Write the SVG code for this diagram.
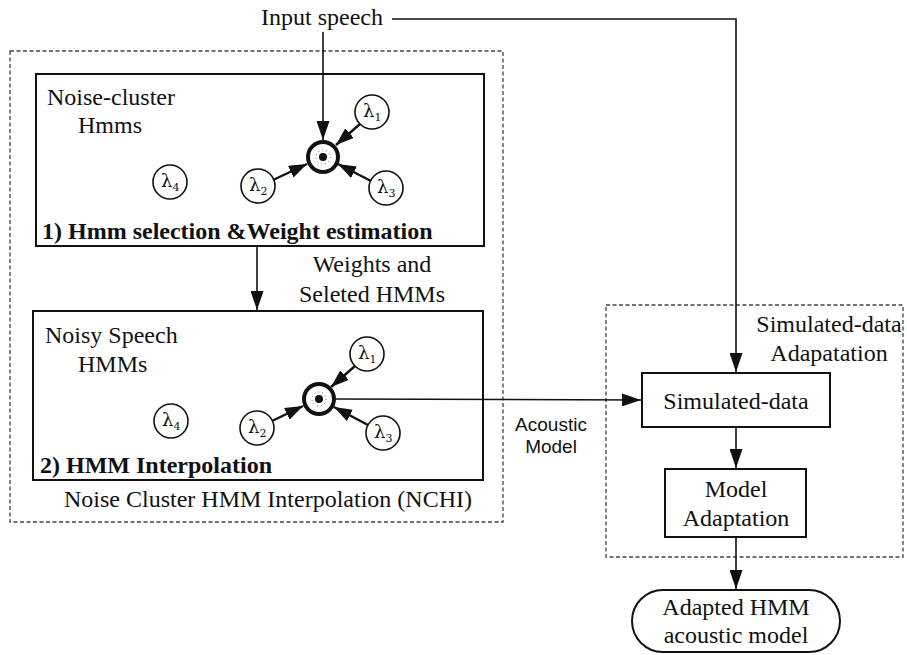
<svg xmlns="http://www.w3.org/2000/svg" width="907" height="655" viewBox="0 0 907 655">
<style>
.t{font-family:"Liberation Serif","Times New Roman",serif;font-size:24px;fill:#111}
.b{font-family:"Liberation Serif","Times New Roman",serif;font-size:24px;font-weight:bold;fill:#111}
.s{font-family:"Liberation Sans",Arial,sans-serif;font-size:19px;fill:#111}
.lam{font-family:"DejaVu Serif","Liberation Serif",serif;font-size:18px;fill:#111}
.box{fill:#fff;stroke:#111;stroke-width:2}
.dot{fill:none;stroke:#444;stroke-width:1.3;stroke-dasharray:4 2.5}
.lc{fill:#fff;stroke:#111;stroke-width:1.6}
.ln{fill:none;stroke:#111;stroke-width:1.6}
.lb{fill:none;stroke:#111;stroke-width:2.4}
</style>
<defs>
<marker id="ah" viewBox="0 0 19 13" refX="19" refY="6.5" markerWidth="19" markerHeight="13" orient="auto" markerUnits="userSpaceOnUse"><path d="M0,0 L19,6.5 L0,13 z" fill="#111"/></marker>
<marker id="ahb" viewBox="0 0 18 13" refX="18" refY="6.5" markerWidth="18" markerHeight="13" orient="auto" markerUnits="userSpaceOnUse"><path d="M0,0 L18,6.5 L0,13 z" fill="#111"/></marker>
</defs>
<rect width="907" height="655" fill="#fff"/>

<g id="nchi">
<rect class="dot" x="10" y="51" width="493" height="471"/>
<text class="t" x="268" y="507" text-anchor="middle">Noise Cluster HMM Interpolation (NCHI)</text>
</g>
<g id="sda">
<rect class="dot" x="606" y="305" width="297" height="252"/>
<text class="t" x="829" y="332" text-anchor="middle">Simulated-data</text>
<text class="t" x="829" y="361" text-anchor="middle">Adapatation</text>
</g>

<g id="stage1">
<rect class="box" x="36" y="74" width="448" height="172"/>
<text class="t" x="47" y="105">Noise-cluster</text>
<text class="t" x="78" y="133">Hmms</text>
<text class="b" x="42" y="239">1) Hmm selection &amp;Weight estimation</text>
</g>
<g id="stage2">
<rect class="box" x="33" y="311" width="450" height="169"/>
<text class="t" x="45" y="343">Noisy Speech</text>
<text class="t" x="78" y="372">HMMs</text>
<text class="b" x="40" y="473">2) HMM Interpolation</text>
</g>

<g id="node1">
<circle cx="323" cy="157" r="15" fill="#fff" stroke="#111" stroke-width="4"/>
<circle cx="323" cy="157" r="7" fill="none" stroke="#666" stroke-width="1" stroke-dasharray="1 3"/>
<circle cx="323" cy="157" r="4" fill="#111"/>
</g>
<g id="n1l1"><circle class="lc" cx="372" cy="112" r="17"/><text class="lam" x="363" y="117">λ<tspan font-size="11" dy="4">1</tspan></text></g>
<g id="n1l2"><circle class="lc" cx="258" cy="186" r="17"/><text class="lam" x="249" y="191">λ<tspan font-size="11" dy="4">2</tspan></text></g>
<g id="n1l3"><circle class="lc" cx="386" cy="188" r="17"/><text class="lam" x="377" y="193">λ<tspan font-size="11" dy="4">3</tspan></text></g>
<g id="n1l4"><circle class="lc" cx="170" cy="182" r="17"/><text class="lam" x="161" y="187">λ<tspan font-size="11" dy="4">4</tspan></text></g>

<g id="node2">
<circle cx="319" cy="399" r="15" fill="#fff" stroke="#111" stroke-width="4"/>
<circle cx="319" cy="399" r="7" fill="none" stroke="#666" stroke-width="1" stroke-dasharray="1 3"/>
<circle cx="319" cy="399" r="4" fill="#111"/>
</g>
<g id="n2l1"><circle class="lc" cx="367" cy="354" r="17"/><text class="lam" x="358" y="359">λ<tspan font-size="11" dy="4">1</tspan></text></g>
<g id="n2l2"><circle class="lc" cx="257" cy="428" r="17"/><text class="lam" x="248" y="433">λ<tspan font-size="11" dy="4">2</tspan></text></g>
<g id="n2l3"><circle class="lc" cx="383" cy="433" r="17"/><text class="lam" x="374" y="438">λ<tspan font-size="11" dy="4">3</tspan></text></g>
<g id="n2l4"><circle class="lc" cx="171" cy="421" r="17"/><text class="lam" x="162" y="426">λ<tspan font-size="11" dy="4">4</tspan></text></g>

<g id="input"><text class="t" x="322" y="25" text-anchor="middle">Input speech</text></g>

<g id="simdata">
<rect class="box" x="642" y="373" width="188" height="54"/>
<text class="t" x="736" y="409" text-anchor="middle">Simulated-data</text>
</g>
<g id="modeladapt">
<rect class="box" x="665" y="469" width="141" height="68"/>
<text class="t" x="736" y="497" text-anchor="middle">Model</text>
<text class="t" x="736" y="526" text-anchor="middle">Adaptation</text>
</g>
<g id="adapted">
<rect class="box" x="632" y="590" width="208" height="62" rx="31" ry="31"/>
<text class="t" x="736" y="615" text-anchor="middle">Adapted HMM</text>
<text class="t" x="736" y="643" text-anchor="middle">acoustic model</text>
</g>

<g id="connectors">
<line class="ln" x1="323" y1="32" x2="323" y2="140" marker-end="url(#ah)"/>
<polyline class="ln" points="392,19 736,19 736,372" marker-end="url(#ah)"/>
<line class="ln" x1="257" y1="246" x2="257" y2="310" marker-end="url(#ah)"/>
<text class="t" x="372" y="272" text-anchor="middle">Weights and</text>
<text class="t" x="372" y="302" text-anchor="middle">Seleted HMMs</text>
<line class="ln" x1="336" y1="399" x2="641" y2="400" marker-end="url(#ah)"/>
<text class="s" x="551" y="431" text-anchor="middle">Acoustic</text>
<text class="s" x="551" y="453" text-anchor="middle">Model</text>
<line class="ln" x1="736" y1="427" x2="736" y2="468" marker-end="url(#ah)"/>
<line class="ln" x1="736" y1="537" x2="736" y2="589" marker-end="url(#ah)"/>
<line class="lb" x1="360" y1="124" x2="336" y2="145" marker-end="url(#ahb)"/>
<line class="lb" x1="273" y1="180" x2="307" y2="164" marker-end="url(#ahb)"/>
<line class="lb" x1="371" y1="181" x2="338" y2="164" marker-end="url(#ahb)"/>
<line class="lb" x1="355" y1="366" x2="331" y2="387" marker-end="url(#ahb)"/>
<line class="lb" x1="272" y1="421" x2="303" y2="406" marker-end="url(#ahb)"/>
<line class="lb" x1="368" y1="425" x2="334" y2="407" marker-end="url(#ahb)"/>
</g>
</svg>
